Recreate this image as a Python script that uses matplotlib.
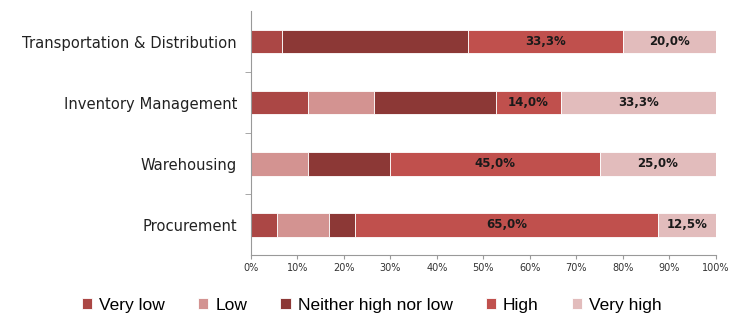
import numpy as np
import matplotlib.pyplot as plt
from matplotlib.ticker import MultipleLocator, FixedLocator, PercentFormatter

# categories from bottom to top
categorias = ["Procurement", "Warehousing", "Inventory Management",
              "Transportation & Distribution"]
niveles = ["Very low", "Low", "Neither high nor low", "High", "Very high"]

very_low = [5.6, 0.0, 12.4, 6.7]
low = [11.3, 12.3, 14.0, 0.0]
neither = [5.6, 17.7, 26.3, 40.0]
high = [65.0, 45.0, 14.0, 33.3]
very_high = [12.5, 25.0, 33.3, 20.0]

series = [very_low, low, neither, high, very_high]
colores = ["#AB4745", "#D39391", "#8C3836", "#C0504D", "#E2BCBC"]
con_etiqueta = [False, False, False, True, True]

fig = plt.figure(figsize=(7.29, 3.15), dpi=100)
ax = fig.add_axes([0.344, 0.19, 0.638, 0.775])

y = np.arange(len(categorias))
izq = np.zeros(len(categorias))
for nombre, vals, color, etq in zip(niveles, series, colores, con_etiqueta):
    vals = np.array(vals)
    ax.barh(y, vals, left=izq, height=0.39, color=color, label=nombre,
            edgecolor="white", linewidth=0.6)
    if etq:
        for yi, l, v in zip(y, izq, vals):
            ax.text(l + v / 2, yi, f"{v:.1f}%".replace(".", ","),
                    ha="center", va="center", fontsize=8.5,
                    fontweight="bold", color="#1a1a1a",
                    family="DejaVu Sans")
    izq += vals

ax.set_xlim(0, 100)
ax.set_ylim(-0.5, 3.5)
ax.xaxis.set_major_locator(MultipleLocator(10))
ax.xaxis.set_major_formatter(PercentFormatter(decimals=0))
ax.set_yticks(y)
ax.set_yticklabels(categorias, family="DejaVu Sans", fontsize=10.6,
                   color="#222222")
ax.yaxis.set_minor_locator(FixedLocator([0.5, 1.5, 2.5]))
ax.tick_params(axis="y", which="major", length=0, pad=10)
ax.tick_params(axis="y", which="minor", length=4, color="#999999")
ax.tick_params(axis="x", length=3, color="#999999", labelsize=7,
               labelcolor="#333333", pad=3)

for lado in ["top", "right"]:
    ax.spines[lado].set_visible(False)
for lado in ["left", "bottom"]:
    ax.spines[lado].set_color("#999999")
    ax.spines[lado].set_linewidth(0.8)

fig.legend(loc="center", bbox_to_anchor=(0.51, 0.03), ncol=5, frameon=False,
           prop={"family": "Liberation Sans", "size": 12.5},
           handlelength=0.6, handleheight=0.6, handletextpad=0.4,
           columnspacing=1.9)

plt.savefig("out.png", dpi=100)
